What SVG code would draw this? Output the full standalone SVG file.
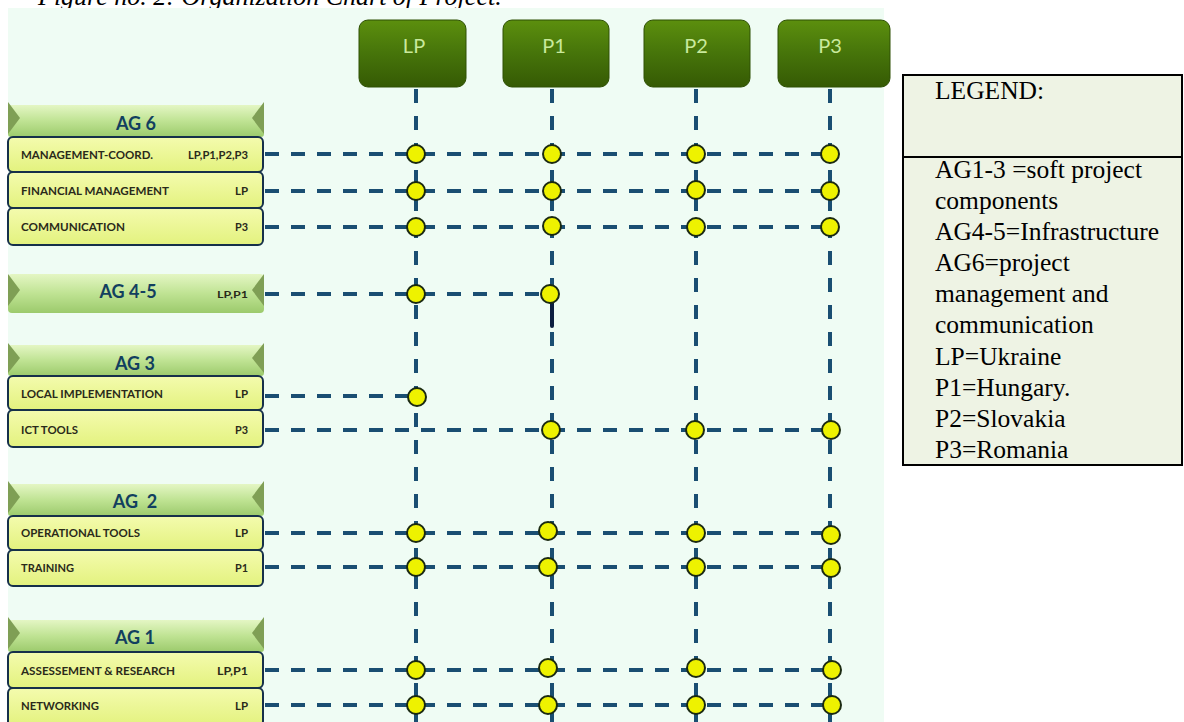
<svg xmlns="http://www.w3.org/2000/svg" width="1184" height="722" viewBox="0 0 1184 722">
<defs>
<linearGradient id="pg" x1="0" y1="0" x2="0" y2="1"><stop offset="0" stop-color="#5c8f0e"/><stop offset="0.5" stop-color="#46740a"/><stop offset="1" stop-color="#355a04"/></linearGradient>
<linearGradient id="hg" x1="0" y1="0" x2="0" y2="1"><stop offset="0" stop-color="#e4f6c4"/><stop offset="0.5" stop-color="#bfe393"/><stop offset="1" stop-color="#9cca6c"/></linearGradient>
<linearGradient id="ig" x1="0" y1="0" x2="0" y2="1"><stop offset="0" stop-color="#f4fbae"/><stop offset="1" stop-color="#e3f27e"/></linearGradient>
</defs>
<style>
.cap{font-family:"Liberation Serif",serif;font-style:italic;font-size:26px;fill:#000}
.pbox{fill:url(#pg);stroke:#2e5004;stroke-width:1}
.ptxt{font-family:Lato,"Open Sans",sans-serif;font-size:20px;fill:#c9e99c;text-anchor:middle}
.hbar{fill:url(#hg)}
.hend{fill:#7f9f55}
.htxt{font-family:Lato,"Open Sans",sans-serif;font-weight:bold;font-size:18px;fill:#123f5f;text-anchor:middle}
.ibox{fill:url(#ig);stroke:#16304a;stroke-width:2}
.itxt{font-family:Lato,"Open Sans",sans-serif;font-weight:bold;font-size:11.5px;fill:#2a2a1a}
.ir{text-anchor:end}
.hl{stroke:#1a4e72;stroke-width:4;stroke-dasharray:14 12;fill:none}
.vl{stroke:#1a4e72;stroke-width:4;stroke-dasharray:14 13;fill:none}
.dot{fill:#eef200;stroke:#1b2a12;stroke-width:2}
.lg{font-family:"Liberation Serif",serif;font-size:25.5px;fill:#000}
</style>
<rect width="1184" height="722" fill="#ffffff"/>
<text class="cap" x="38" y="5">Figure no. 2: Organization Chart of Project.</text>
<rect x="8" y="8" width="876" height="714" fill="#effcf4"/>

<g id="connectors">
<path class="vl" d="M416 89V722"/>
<path class="vl" d="M552 89V722"/>
<path class="vl" d="M696 89V722"/>
<path class="vl" d="M830 89V722"/>
<path class="hl" d="M265 154H830"/>
<path class="hl" d="M265 191H830"/>
<path class="hl" d="M265 227H830"/>
<path class="hl" d="M265 294H552"/>
<path class="hl" d="M265 396H416"/>
<path class="hl" d="M265 430H830"/>
<path class="hl" d="M265 533H830"/>
<path class="hl" d="M265 567H830"/>
<path class="hl" d="M265 670H830"/>
<path class="hl" d="M265 705H830"/>
<path d="M552 300V326" stroke="#0c1f40" stroke-width="4" stroke-linecap="round"/>
</g>

<g id="junctions">
<circle class="dot" cx="416" cy="154" r="9"/><circle class="dot" cx="552" cy="154" r="9"/><circle class="dot" cx="696" cy="154" r="9"/><circle class="dot" cx="830" cy="154" r="9"/>
<circle class="dot" cx="416" cy="191" r="9"/><circle class="dot" cx="552" cy="191" r="9"/><circle class="dot" cx="696" cy="190" r="9"/><circle class="dot" cx="830" cy="191" r="9"/>
<circle class="dot" cx="416" cy="227" r="9"/><circle class="dot" cx="552" cy="226" r="9"/><circle class="dot" cx="696" cy="227" r="9"/><circle class="dot" cx="830" cy="227" r="9"/>
<circle class="dot" cx="416" cy="294" r="9"/><circle class="dot" cx="550" cy="294" r="9"/>
<circle class="dot" cx="417" cy="397" r="9"/>
<circle class="dot" cx="551" cy="430" r="9"/><circle class="dot" cx="695" cy="430" r="9"/><circle class="dot" cx="831" cy="430" r="9"/>
<circle class="dot" cx="416" cy="533" r="9"/><circle class="dot" cx="548" cy="531" r="9"/><circle class="dot" cx="696" cy="533" r="9"/><circle class="dot" cx="831" cy="535" r="9"/>
<circle class="dot" cx="416" cy="567" r="9"/><circle class="dot" cx="548" cy="567" r="9"/><circle class="dot" cx="696" cy="567" r="9"/><circle class="dot" cx="831" cy="568" r="9"/>
<circle class="dot" cx="416" cy="670" r="9"/><circle class="dot" cx="548" cy="668" r="9"/><circle class="dot" cx="696" cy="668" r="9"/><circle class="dot" cx="832" cy="670" r="9"/>
<circle class="dot" cx="416" cy="705" r="9"/><circle class="dot" cx="548" cy="705" r="9"/><circle class="dot" cx="696" cy="705" r="9"/><circle class="dot" cx="832" cy="705" r="9"/>
</g>

<g id="partner-LP"><rect class="pbox" x="359" y="20" width="107" height="67" rx="9"/><text class="ptxt" x="414" y="53">LP</text></g>
<g id="partner-P1"><rect class="pbox" x="503" y="20" width="106" height="67" rx="9"/><text class="ptxt" x="554" y="53">P1</text></g>
<g id="partner-P2"><rect class="pbox" x="644" y="20" width="106" height="67" rx="9"/><text class="ptxt" x="696" y="53">P2</text></g>
<g id="partner-P3"><rect class="pbox" x="778" y="20" width="112" height="67" rx="9"/><text class="ptxt" x="830" y="53">P3</text></g>

<g id="ag6">
<rect class="hbar" x="8" y="105" width="256" height="32" rx="3"/>
<polygon class="hend" points="8,102 20,118 8,134"/><polygon class="hend" points="264,102 252,118 264,134"/>
<text class="htxt" x="136" y="130">AG 6</text>
</g>
<g id="mgmt-coord"><rect class="ibox" x="8" y="137" width="255" height="35" rx="5"/><text class="itxt" x="21" y="159">MANAGEMENT-COORD.</text><text class="itxt" x="188" y="159" textLength="60" lengthAdjust="spacingAndGlyphs">LP,P1,P2,P3</text></g>
<g id="fin-mgmt"><rect class="ibox" x="8" y="172" width="255" height="36" rx="5"/><text class="itxt" x="21" y="195" textLength="148" lengthAdjust="spacingAndGlyphs">FINANCIAL MANAGEMENT</text><text class="itxt" x="235" y="195" textLength="13" lengthAdjust="spacingAndGlyphs">LP</text></g>
<g id="communication"><rect class="ibox" x="8" y="208" width="255" height="37" rx="5"/><text class="itxt" x="21" y="231" textLength="104" lengthAdjust="spacingAndGlyphs">COMMUNICATION</text><text class="itxt" x="235" y="231" textLength="13" lengthAdjust="spacingAndGlyphs">P3</text></g>

<g id="ag45">
<rect class="hbar" x="8" y="274" width="256" height="39" rx="4"/>
<polygon class="hend" points="8,274 20,290 8,306"/><polygon class="hend" points="264,274 252,290 264,306"/>
<text class="htxt" x="128" y="298">AG 4-5</text>
<text class="itxt" x="217" y="298" textLength="31" lengthAdjust="spacingAndGlyphs" style="font-size:10px">LP,P1</text>
</g>

<g id="ag3">
<rect class="hbar" x="8" y="345" width="256" height="31" rx="3"/>
<polygon class="hend" points="8,343 20,358 8,373"/><polygon class="hend" points="264,343 252,358 264,373"/>
<text class="htxt" x="135" y="370">AG 3</text>
</g>
<g id="local-impl"><rect class="ibox" x="8" y="376" width="255" height="34" rx="5"/><text class="itxt" x="21" y="398" textLength="142" lengthAdjust="spacingAndGlyphs">LOCAL IMPLEMENTATION</text><text class="itxt" x="235" y="398" textLength="13" lengthAdjust="spacingAndGlyphs">LP</text></g>
<g id="ict-tools"><rect class="ibox" x="8" y="410" width="255" height="37" rx="5"/><text class="itxt" x="21" y="434" textLength="57" lengthAdjust="spacingAndGlyphs">ICT TOOLS</text><text class="itxt" x="235" y="434" textLength="13" lengthAdjust="spacingAndGlyphs">P3</text></g>

<g id="ag2">
<rect class="hbar" x="8" y="484" width="256" height="32" rx="3"/>
<polygon class="hend" points="8,481 20,497 8,513"/><polygon class="hend" points="264,481 252,497 264,513"/>
<text class="htxt" x="135" y="508" style="white-space:pre">AG  2</text>
</g>
<g id="op-tools"><rect class="ibox" x="8" y="516" width="255" height="34" rx="5"/><text class="itxt" x="21" y="537" textLength="119" lengthAdjust="spacingAndGlyphs">OPERATIONAL TOOLS</text><text class="itxt" x="235" y="537" textLength="13" lengthAdjust="spacingAndGlyphs">LP</text></g>
<g id="training"><rect class="ibox" x="8" y="550" width="255" height="36" rx="5"/><text class="itxt" x="21" y="572" textLength="53" lengthAdjust="spacingAndGlyphs">TRAINING</text><text class="itxt" x="235" y="572" textLength="13" lengthAdjust="spacingAndGlyphs">P1</text></g>

<g id="ag1">
<rect class="hbar" x="8" y="620" width="256" height="32" rx="3"/>
<polygon class="hend" points="8,617 20,633 8,649"/><polygon class="hend" points="264,617 252,633 264,649"/>
<text class="htxt" x="135" y="644">AG 1</text>
</g>
<g id="assess"><rect class="ibox" x="8" y="652" width="255" height="36" rx="5"/><text class="itxt" x="21" y="675" textLength="154" lengthAdjust="spacingAndGlyphs">ASSESSEMENT &amp; RESEARCH</text><text class="itxt" x="217" y="675" textLength="31" lengthAdjust="spacingAndGlyphs">LP,P1</text></g>
<g id="networking"><rect class="ibox" x="8" y="688" width="255" height="38" rx="5"/><text class="itxt" x="21" y="710" textLength="78" lengthAdjust="spacingAndGlyphs">NETWORKING</text><text class="itxt" x="235" y="710" textLength="13" lengthAdjust="spacingAndGlyphs">LP</text></g>

<g id="legend">
<rect x="903" y="75" width="279" height="390" fill="#eef3e4" stroke="#000" stroke-width="2"/>
<line x1="903" y1="157" x2="1182" y2="157" stroke="#000" stroke-width="2"/>
<text class="lg" x="935" y="99">LEGEND:</text>
<text class="lg" x="935" y="178">AG1-3 =soft project</text>
<text class="lg" x="935" y="209">components</text>
<text class="lg" x="935" y="240">AG4-5=Infrastructure</text>
<text class="lg" x="935" y="271">AG6=project</text>
<text class="lg" x="935" y="302">management and</text>
<text class="lg" x="935" y="333">communication</text>
<text class="lg" x="935" y="365">LP=Ukraine</text>
<text class="lg" x="935" y="396">P1=Hungary.</text>
<text class="lg" x="935" y="427">P2=Slovakia</text>
<text class="lg" x="935" y="458">P3=Romania</text>
</g>
</svg>
